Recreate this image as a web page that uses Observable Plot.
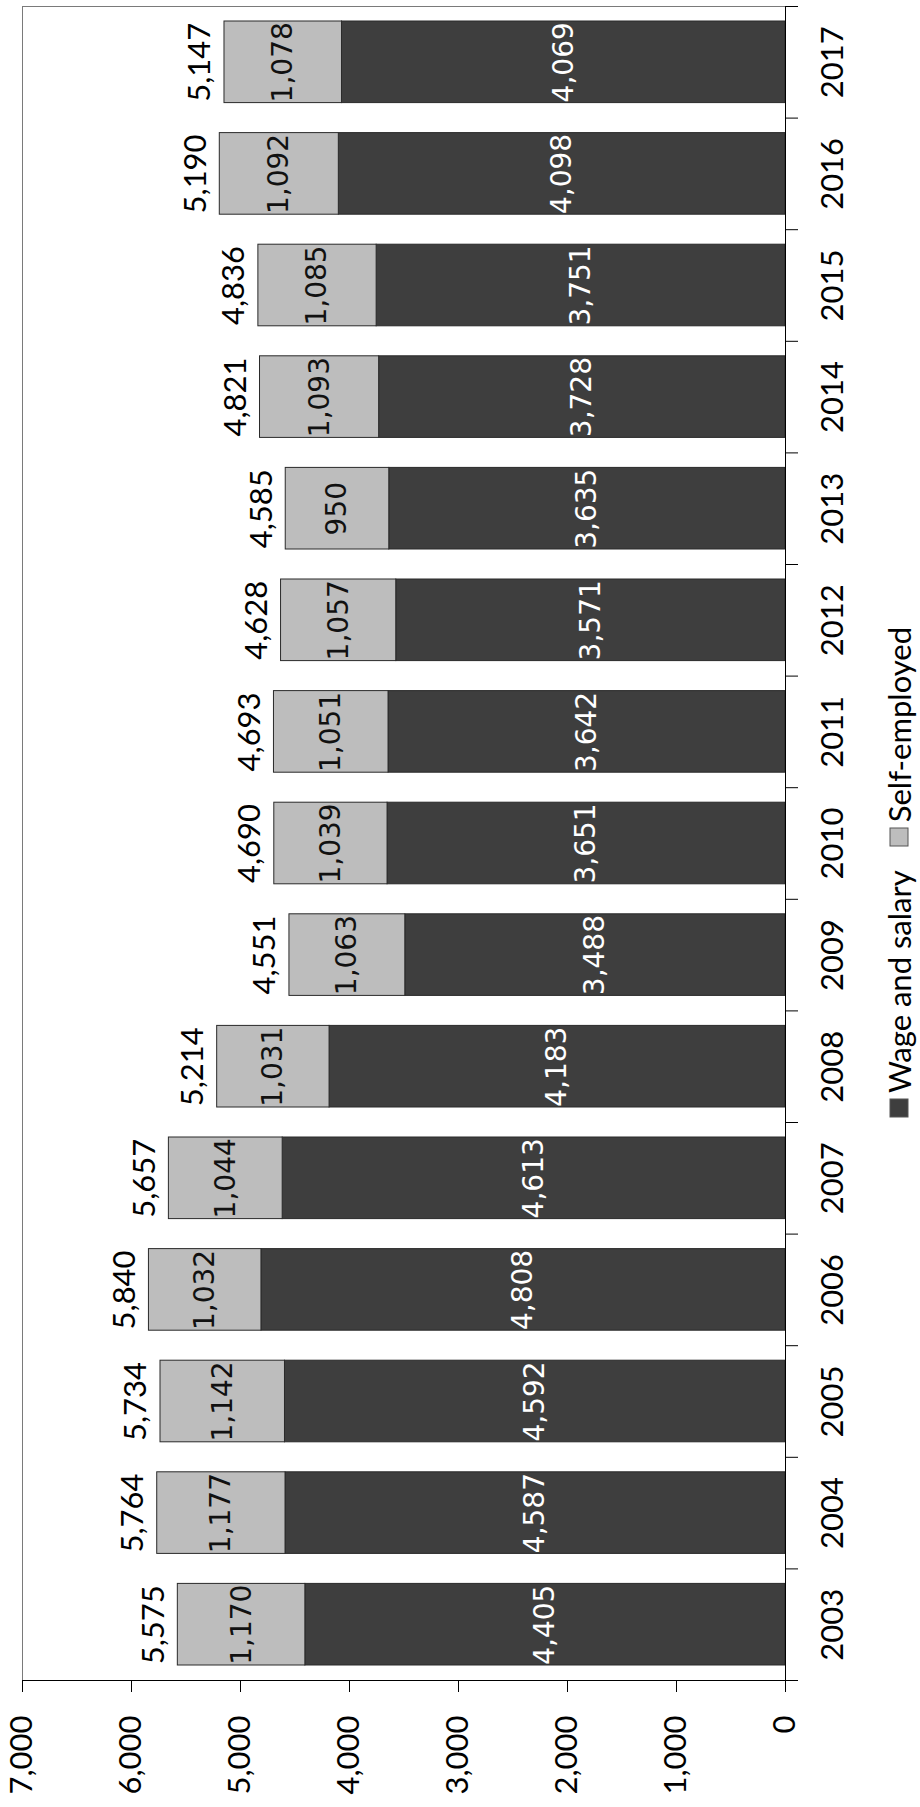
<!DOCTYPE html>
<html>
<head>
<meta charset="utf-8">
<script src="https://cdn.jsdelivr.net/npm/d3@7"></script>
<script src="https://cdn.jsdelivr.net/npm/@observablehq/plot@0.6"></script>
<style>
  body { margin: 0; background: #fff; }
  #wrap { position: relative; width: 920px; height: 1807px; overflow: hidden; background: #fff; }
  #legend { position: absolute; left: 0; top: 0; transform-origin: 0 0; transform: rotate(-90deg); white-space: nowrap; display: inline-block; width: max-content; line-height: 1; }
  #legend, #legend div, #legend span { font-family: Lato, sans-serif !important; font-size: 31px !important; line-height: 1 !important; color: #000; margin: 0 !important; }
  #legend style { display: none !important; }
  #legend > div { display: inline-flex !important; flex-wrap: nowrap !important; width: max-content !important; min-height: 0 !important; }
  #legend > div > :not(style) { margin-right: 24px !important; display: inline-flex !important; align-items: center; white-space: nowrap; }
  #legend svg { margin-right: 6px !important; }
  #legend svg rect { stroke: #555; stroke-width: 1; }
</style>
</head>
<body>
<div id="wrap"></div>
<script>
const years = [2003, 2004, 2005, 2006, 2007, 2008, 2009, 2010, 2011, 2012, 2013, 2014, 2015, 2016, 2017];
const wageSalary = [4405, 4587, 4592, 4808, 4613, 4183, 3488, 3651, 3642, 3571, 3635, 3728, 3751, 4098, 4069];
const selfEmployed = [1170, 1177, 1142, 1032, 1044, 1031, 1063, 1039, 1051, 1057, 950, 1093, 1085, 1092, 1078];
const totals = [5575, 5764, 5734, 5840, 5657, 5214, 4551, 4690, 4693, 4628, 4585, 4821, 4836, 5190, 5147];
const seriesNames = ["Wage and salary", "Self-employed"];
const seriesColors = ["#3e3e3e", "#bdbdbd"];
const valueTicks = [0, 1000, 2000, 3000, 4000, 5000, 6000, 7000];

const rows = [];
years.forEach((yr, i) => rows.push({year: yr, series: seriesNames[0], value: wageSalary[i]}));
years.forEach((yr, i) => rows.push({year: yr, series: seriesNames[1], value: selfEmployed[i]}));
const totalRows = years.map((yr, i) => ({year: yr, total: totals[i]}));
const fmt = d3.format(",");
const mid = d => d.year + 0.5;
const boundaries = [...years, years[years.length - 1] + 1];
const yearCenters = years.map(y => y + 0.5);

const chart = Plot.plot({
  width: 920,
  height: 1807,
  marginLeft: 22,
  marginRight: 135,
  marginTop: 6,
  marginBottom: 127,
  style: {fontFamily: "Lato, sans-serif", fontSize: "31px", color: "#000", background: "#fff"},
  x: {domain: [0, 7000], reverse: true},
  y: {domain: [years[0], years[years.length - 1] + 1]},
  color: {domain: seriesNames, range: seriesColors},
  marks: [
    Plot.frame({stroke: "#7a7a7a"}),
    Plot.rectX(rows, {x: "value", y: "year", interval: 1, fill: "series", stroke: "#2a2a2a", strokeWidth: 1, insetTop: 15, insetBottom: 15}),
    Plot.text(rows, Plot.stackX({
      x: "value", y: mid, text: d => fmt(d.value), rotate: -90,
      textAnchor: "middle", lineAnchor: "middle",
      fill: d => d.series === seriesNames[0] ? "#ffffff" : "#111111",
      fontFamily: "DejaVu Sans", fontSize: 28
    })),
    Plot.text(totalRows, {x: "total", y: mid, text: d => fmt(d.total), rotate: -90, textAnchor: "middle", lineAnchor: "middle", dx: -24, fontSize: 31, fill: "#000"}),
    Plot.ruleX([0], {stroke: "#000"}),
    Plot.ruleY([years[0]], {stroke: "#000"}),
    Plot.axisX({ticks: valueTicks, tickFormat: d => fmt(d), tickSize: 12, tickPadding: 23, tickRotate: -90, textAnchor: "end", lineAnchor: "middle", fontSize: 31, label: null, stroke: "#000", fill: "#000"}),
    Plot.axisY({anchor: "right", ticks: boundaries, tickSize: 12, tickFormat: () => "", label: null, stroke: "#000"}),
    Plot.axisY({anchor: "right", ticks: yearCenters, tickSize: 0, tickPadding: 48, tickRotate: -90, textAnchor: "middle", lineAnchor: "middle", tickFormat: d => String(d - 0.5), fontSize: 31, label: null, fill: "#000"})
  ]
});

const wrap = document.getElementById("wrap");
wrap.appendChild(chart);

const leg = Plot.legend({color: {domain: seriesNames, range: seriesColors}, legend: "swatches", swatchSize: 18});
const legBox = document.createElement("div");
legBox.id = "legend";
legBox.appendChild(leg);
wrap.appendChild(legBox);
const W = legBox.offsetWidth, H = legBox.offsetHeight;
legBox.style.left = (898 - H / 2) + "px";
legBox.style.top = (603 + W) + "px";
</script>
</body>
</html>
